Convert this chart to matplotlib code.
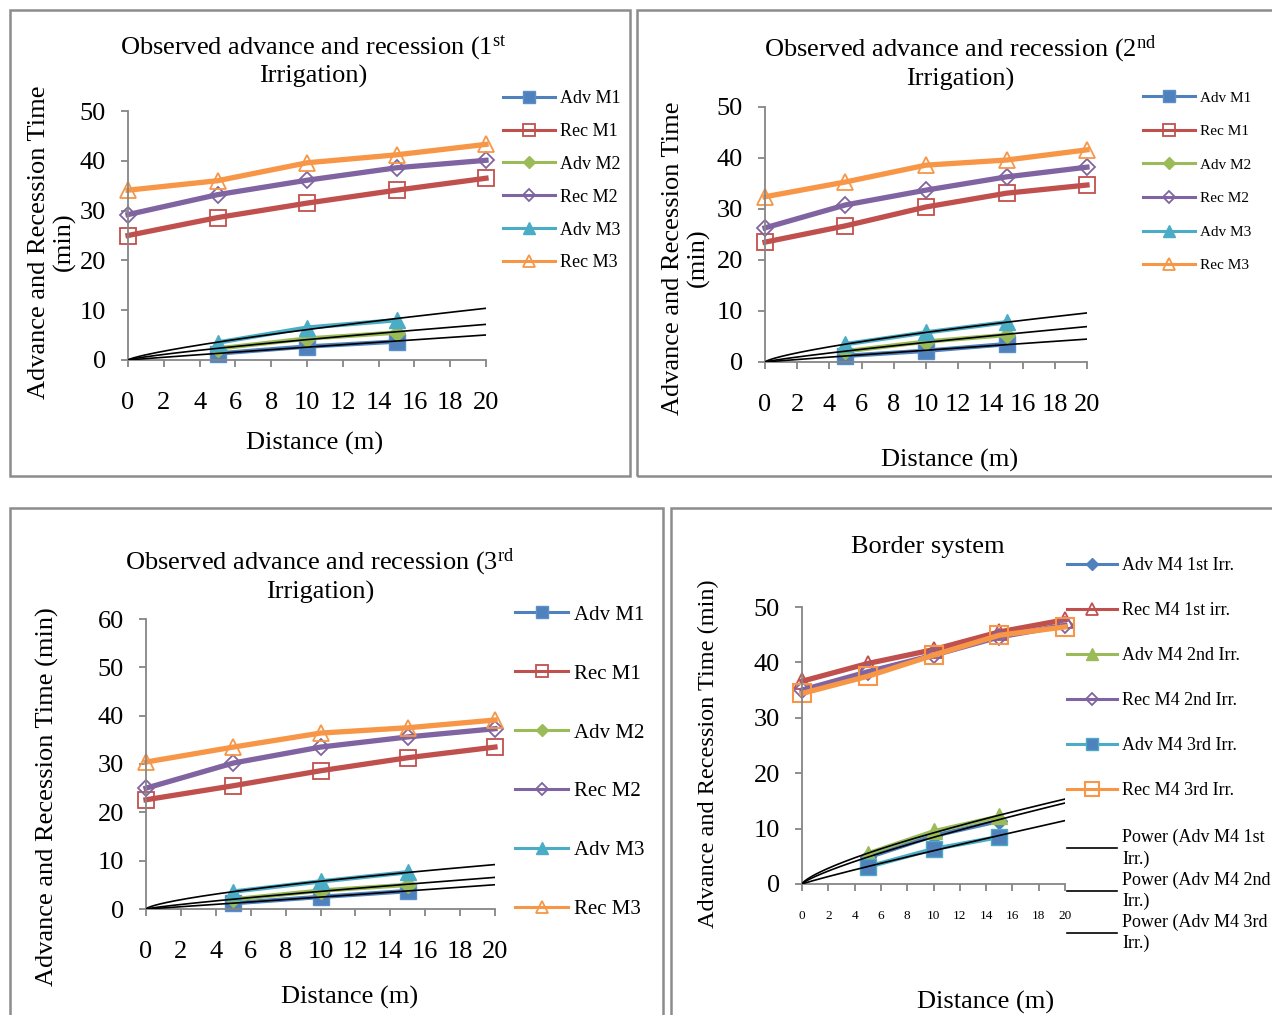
import numpy as np
import matplotlib
matplotlib.use("Agg")
import matplotlib.pyplot as plt
from matplotlib.patches import Rectangle

plt.rcParams['font.family'] = ['Liberation Serif', 'DejaVu Serif']
plt.rcParams['mathtext.fontset'] = 'custom'
plt.rcParams['mathtext.rm'] = 'Liberation Serif'
plt.rcParams['mathtext.it'] = 'Liberation Serif:italic'

# ---------------- data ----------------
dist = [0, 5, 10, 15, 20]
adv_dist = [5, 10, 15]
x_ticks = [0, 2, 4, 6, 8, 10, 12, 14, 16, 18, 20]

irr1_adv_m1 = [1.3, 2.7, 3.7]
irr1_adv_m2 = [2.3, 4.3, 5.5]
irr1_adv_m3 = [3.5, 6.5, 8.0]
irr1_rec_m1 = [25.0, 28.6, 31.5, 34.1, 36.5]
irr1_rec_m2 = [29.2, 33.2, 36.1, 38.6, 40.1]
irr1_rec_m3 = [34.1, 36.0, 39.6, 41.2, 43.3]

irr2_adv_m1 = [1.2, 2.2, 3.5]
irr2_adv_m2 = [2.1, 4.0, 5.3]
irr2_adv_m3 = [3.5, 5.8, 7.8]
irr2_rec_m1 = [23.5, 26.7, 30.4, 33.1, 34.7]
irr2_rec_m2 = [26.3, 30.8, 33.7, 36.3, 38.2]
irr2_rec_m3 = [32.4, 35.3, 38.6, 39.6, 41.6]

irr3_adv_m1 = [1.2, 2.5, 3.7]
irr3_adv_m2 = [2.0, 3.8, 5.0]
irr3_adv_m3 = [3.6, 5.7, 7.6]
irr3_rec_m1 = [22.6, 25.5, 28.6, 31.3, 33.5]
irr3_rec_m2 = [25.0, 30.2, 33.5, 35.6, 37.3]
irr3_rec_m3 = [30.4, 33.5, 36.4, 37.5, 39.1]

m4_adv_1 = [4.8, 8.7, 11.4]
m4_rec_1 = [36.6, 39.8, 42.3, 45.5, 47.7]
m4_adv_2 = [5.5, 9.5, 12.2]
m4_rec_2 = [35.0, 38.3, 41.3, 44.6, 46.7]
m4_adv_3 = [3.1, 6.3, 8.5]
m4_rec_3 = [34.4, 37.5, 41.3, 44.9, 46.4]

labels_m = ["Adv M1", "Rec M1", "Adv M2", "Rec M2", "Adv M3", "Rec M3"]
labels_b = ["Adv M4 1st Irr.", "Rec M4 1st irr.", "Adv M4 2nd Irr.",
            "Rec M4 2nd Irr.", "Adv M4 3rd Irr.", "Rec M4 3rd Irr."]
labels_pow = ["Power (Adv M4 1st\nIrr.)", "Power (Adv M4 2nd\nIrr.)", "Power (Adv M4 3rd\nIrr.)"]

BLUE, RED, GREEN, PURPLE, TEAL, ORANGE = "#4F81BD", "#C0504D", "#9BBB59", "#8064A2", "#4BACC6", "#F79646"
GRAY = "#868686"

W, H = 1272, 1015
fig = plt.figure(figsize=(W / 100, H / 100), dpi=100)


def rect(l, t, r, b):
    return [l / W, 1 - b / H, (r - l) / W, (b - t) / H]


def ftext(x, y, s, **kw):
    fig.text(x / W, 1 - y / H, s, ha=kw.pop('ha', 'center'), va=kw.pop('va', 'center'), **kw)


def frame(l, t, r, b):
    fig.patches.append(Rectangle((l / W, 1 - b / H), (r - l) / W, (b - t) / H,
                                 transform=fig.transFigure, fill=False,
                                 edgecolor="#8C8C8C", linewidth=1.8))


def power_fit(x, y):
    b, ln_a = np.polyfit(np.log(x), np.log(y), 1)
    xs = np.linspace(1e-4, 20, 200)
    return xs, np.exp(ln_a) * xs ** b


def style_axes(ax, ymax, xfs, yfs, xpad, ypad):
    ax.set_xlim(0, 20)
    ax.set_ylim(0, ymax)
    ax.set_xticks(x_ticks)
    ax.set_yticks(np.arange(0, ymax + 1, 10))
    for s in ['top', 'right']:
        ax.spines[s].set_visible(False)
    for s in ['left', 'bottom']:
        ax.spines[s].set_color(GRAY)
        ax.spines[s].set_linewidth(1.3)
    ax.tick_params(axis='x', direction='out', length=5, width=1.3, color=GRAY,
                   labelsize=xfs, pad=xpad)
    ax.tick_params(axis='y', direction='out', length=5, width=1.3, color=GRAY,
                   labelsize=yfs, pad=ypad)
    ax.patch.set_alpha(0)


def draw_irr(ax, am1, rm1, am2, rm2, am3, rm3):
    h = []
    h += ax.plot(adv_dist, am1, color=BLUE, lw=3.2, marker='s', ms=12, mfc=BLUE, mec="#5B8FCB", clip_on=False)
    h += ax.plot(dist, rm1, color=RED, lw=3.8, marker='s', ms=12, mfc='none', mec=RED, mew=1.3, clip_on=False)
    h += ax.plot(adv_dist, am2, color=GREEN, lw=3.2, marker='D', ms=8, mfc=GREEN, mec=GREEN, clip_on=False)
    h += ax.plot(dist, rm2, color=PURPLE, lw=3.8, marker='D', ms=8.5, mfc='none', mec=PURPLE, mew=1.3, clip_on=False)
    h += ax.plot(adv_dist, am3, color=TEAL, lw=3.2, marker='^', ms=12, mfc=TEAL, mec=TEAL, clip_on=False)
    h += ax.plot(dist, rm3, color=ORANGE, lw=3.8, marker='^', ms=12, mfc='none', mec=ORANGE, mew=1.3, clip_on=False)
    for y in (am1, am2, am3):
        xs, ys = power_fit(adv_dist, y)
        ax.plot(xs, ys, color='black', lw=1.2, zorder=5)
    return h


def add_legend(handles, labels, x, y, fs, spacing, hl_px):
    leg = fig.legend(handles, labels, loc='upper left', bbox_to_anchor=(x / W, 1 - y / H),
                     frameon=False, fontsize=fs, labelspacing=spacing,
                     handlelength=hl_px / (fs * 100 / 72), handletextpad=0.3,
                     borderpad=0, borderaxespad=0, markerscale=0.75)
    for ln in leg.get_lines():
        ln.set_linewidth(2.2)
    return leg


# frames
frame(10, 10, 630, 476)
frame(637, 10, 1290, 476)
frame(10, 508, 663, 1030)
frame(671, 508, 1290, 1030)

TFS = 19  # titles / axis labels
KFS = 19  # tick labels

# ---------- panel 1 ----------
ax1 = fig.add_axes(rect(128, 111, 486, 360))
style_axes(ax1, 50, KFS, KFS, 18, 11)
h1 = draw_irr(ax1, irr1_adv_m1, irr1_rec_m1, irr1_adv_m2, irr1_rec_m2, irr1_adv_m3, irr1_rec_m3)
ftext(313, 61, "Observed advance and recession (1$^{\\mathrm{st}}$\nIrrigation)", fontsize=TFS, linespacing=1.15)
ftext(315, 443, "Distance (m)", fontsize=TFS)
ftext(52, 242, "Advance and Recession Time\n(min)", fontsize=TFS, rotation=90, linespacing=1.15)
add_legend(h1, labels_m, 503, 90, 13, 0.88, 52)

# ---------- panel 2 ----------
ax2 = fig.add_axes(rect(765, 107, 1087, 362))
style_axes(ax2, 50, KFS, KFS, 18, 11)
h2 = draw_irr(ax2, irr2_adv_m1, irr2_rec_m1, irr2_adv_m2, irr2_rec_m2, irr2_adv_m3, irr2_rec_m3)
ftext(960, 62, "Observed advance and recession (2$^{\\mathrm{nd}}$\nIrrigation)", fontsize=TFS, linespacing=1.15)
ftext(950, 460, "Distance (m)", fontsize=TFS)
ftext(686, 258, "Advance and Recession Time\n(min)", fontsize=TFS, rotation=90, linespacing=1.15)
add_legend(h2, labels_m, 1143, 91, 11, 1.3, 52)

# ---------- panel 3 ----------
ax3 = fig.add_axes(rect(146, 619, 495, 909))
style_axes(ax3, 60, KFS, KFS, 18, 11)
h3 = draw_irr(ax3, irr3_adv_m1, irr3_rec_m1, irr3_adv_m2, irr3_rec_m2, irr3_adv_m3, irr3_rec_m3)
ftext(320, 575, "Observed advance and recession (3$^{\\mathrm{rd}}$\nIrrigation)", fontsize=TFS, linespacing=1.15)
ftext(350, 997, "Distance (m)", fontsize=TFS)
ftext(47, 797, "Advance and Recession Time (min)", fontsize=TFS, rotation=90)
add_legend(h3, labels_m, 515, 605, 15, 1.89, 53)

# ---------- panel 4 ----------
ax4 = fig.add_axes(rect(802, 607, 1065, 884))
style_axes(ax4, 50, 9.5, KFS, 14, 11)
h4 = []
h4 += ax4.plot(adv_dist, m4_adv_1, color=BLUE, lw=3.2, marker='D', ms=8, mfc=BLUE, mec=BLUE, clip_on=False)
h4 += ax4.plot(dist, m4_rec_1, color=RED, lw=3.8, marker='^', ms=12, mfc='none', mec=RED, mew=1.3, clip_on=False)
h4 += ax4.plot(adv_dist, m4_adv_2, color=GREEN, lw=3.2, marker='^', ms=12, mfc=GREEN, mec=GREEN, clip_on=False)
h4 += ax4.plot(dist, m4_rec_2, color=PURPLE, lw=3.8, marker='D', ms=8.5, mfc='none', mec=PURPLE, mew=1.3, clip_on=False)
h4 += ax4.plot(adv_dist, m4_adv_3, color=TEAL, lw=3.2, marker='s', ms=12, mfc=BLUE, mec=TEAL, clip_on=False)
h4 += ax4.plot(dist, m4_rec_3, color=ORANGE, lw=3.8, marker='s', ms=13, mfc='none', mec=ORANGE, mew=1.5, clip_on=False)
hp = []
for y in (m4_adv_1, m4_adv_2, m4_adv_3):
    xs, ys = power_fit(adv_dist, y)
    hp += ax4.plot(xs, ys, color='black', lw=1.2, zorder=5)
ftext(928, 547, "Border system", fontsize=TFS)
ftext(986, 1002, "Distance (m)", fontsize=TFS)
ftext(708, 754, "Advance and Recession Time (min)", fontsize=17.5, rotation=90)
add_legend(h4, labels_b, 1067, 557, 13, 1.55, 50)
leg = fig.legend(hp, labels_pow, loc='upper left', bbox_to_anchor=(1067 / W, 1 - 829 / H),
                 frameon=False, fontsize=13, labelspacing=0.2,
                 handlelength=50 / (13 * 100 / 72), handletextpad=0.3,
                 borderpad=0, borderaxespad=0)
for t in leg.get_texts():
    t.set_linespacing(1.3)

fig.savefig("out.png", dpi=100)
